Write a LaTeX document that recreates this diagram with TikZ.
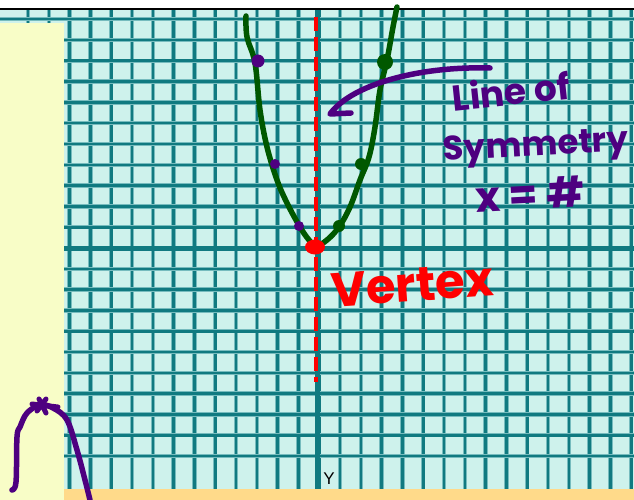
\documentclass[tikz,border=0pt]{standalone}
\usepackage{fontspec}
\usetikzlibrary{shapes.geometric}
\newfontfamily\handfont{Poppins}
\newfontfamily\labelfont{Liberation Sans}

\definecolor{gridteal}{RGB}{16,122,128}
\definecolor{gridhalo}{RGB}{118,188,190}
\definecolor{paper}{RGB}{206,242,236}
\definecolor{panel}{RGB}{248,253,199}
\definecolor{strip}{RGB}{255,218,138}
\definecolor{curvegreen}{RGB}{0,88,0}
\definecolor{plum}{RGB}{78,0,128}
\definecolor{marker}{RGB}{255,0,0}

\begin{document}
\begin{tikzpicture}[x=1pt, y=-1pt,
	gridline/.style={draw=gridhalo, line width=0.9pt, double=gridteal, double distance=2.6pt},
	axis/.style={gridteal, line width=5pt},
	dot/.style={circle, inner sep=0pt, draw=none},
	pen/.style={line width=5.5pt, line cap=round, line join=round},
	hand/.style={font=\handfont\bfseries, inner sep=0pt}]

	\useasboundingbox (0, 0) rectangle (634, 500);
	\fill[white] (0, 0) rectangle (634, 9);
	\fill[paper] (0, 9) rectangle (634, 489);

	\foreach \k in {0,...,29}
		\draw[gridline] ({28+20.8*\k}, 9) -- ({28+20.8*\k}, 489);
	\foreach \k in {-11,...,10}
		\draw[gridline] (0, {248+20.8*\k}) -- (634, {248+20.8*\k});

	\draw[axis] (317, 9) -- (317, 489);
	\draw[axis] (64, 248) -- (634, 248);

	\fill[panel] (0, 23) rectangle (64, 500);
	\fill[strip] (64, 489) rectangle (634, 500);
	\draw[black, line width=2pt] (0, 9) -- (634, 9);

	\draw[marker, line width=4.5pt, dash pattern=on 14pt off 6pt] (316, 17) -- (316, 382);

	\draw[pen, curvegreen] plot[smooth, tension=0.6] coordinates {
		(246, 16) (247, 37) (255, 63) (260, 110) (267, 147) (277, 180)
		(287, 203) (300, 227) (309, 240) (316, 246) (327, 240) (339, 227)
		(350, 207) (360, 180) (369, 157) (375, 127) (380, 90) (387, 60)
		(393, 27) (397, 7)};

	\node (p1) [dot, fill=plum, minimum size=13pt] at (258, 61) {};
	\node (p2) [dot, fill=plum, minimum size=10pt] at (275, 164) {};
	\node (p3) [dot, fill=plum, minimum size=10pt] at (299, 226) {};
	\node (q1) [dot, fill=curvegreen, minimum size=16pt] at (385, 62) {};
	\node (q2) [dot, fill=curvegreen, minimum size=12pt] at (361, 164) {};
	\node (q3) [dot, fill=curvegreen, minimum size=12pt] at (339, 226) {};
	\node (vert) [dot, ellipse, fill=marker, minimum width=20pt, minimum height=15pt] at (315, 247) {};

	\coordinate (tail) at (490, 68);
	\coordinate (tip) at (330, 114);
	\coordinate (barb) at (351, 113);
	\draw[pen, plum] (tail) .. controls (420, 66) and (352, 84) .. (tip) -- (barb);

	\node (lineof) [hand, plum, rotate=6, font=\handfont\bfseries\fontsize{36}{36}\selectfont] at (511, 91) {Line of};
	\node (symmetry) [hand, plum, rotate=3, font=\handfont\bfseries\fontsize{34}{34}\selectfont] at (536, 148) {Symmetry};
	\node (equation) [hand, plum, rotate=3, font=\handfont\bfseries\fontsize{42}{42}\selectfont] at (530, 194) {x = \#};
	\node (vertex) [hand, marker, rotate=4, font=\handfont\bfseries\fontsize{48}{48}\selectfont] at (412, 285) {Vertex};

	\draw[pen, plum] plot[smooth, tension=0.6] coordinates {
		(12, 490) (16, 482) (17, 437) (20, 427) (27, 413) (40, 405)
		(53, 408) (67, 420) (77, 450) (85, 480) (90, 500)};
	\draw[pen, plum, line width=5pt] (32, 404) -- (58, 407) (39, 399) -- (46, 413) (46, 399) -- (37, 411);

	\node (ylabel) [font=\labelfont\fontsize{17}{17}\selectfont, inner sep=0pt] at (329, 479) {Y};

\end{tikzpicture}
\end{document}
